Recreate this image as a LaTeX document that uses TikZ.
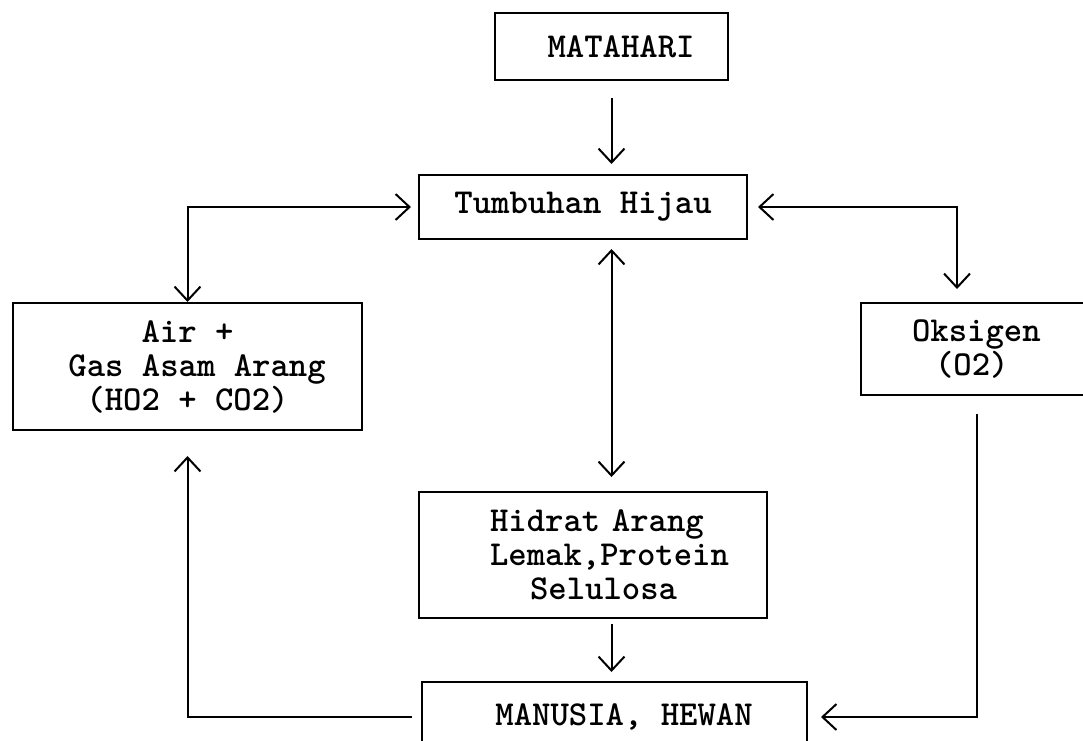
\documentclass[tikz,border=0pt]{standalone}
\usetikzlibrary{arrows.meta,calc}
\begin{document}
\begin{tikzpicture}[x=1pt,y=-1pt,
  every node/.style={font=\fontsize{35}{34}\selectfont\ttfamily\bfseries},
  box/.style={draw, line width=2pt, rectangle, inner sep=0pt, align=center},
  link/.style={line width=2pt, >={Straight Barb[length=14pt,width=26pt]}}]
\useasboundingbox (0,0) rectangle (1083,740);

% boxes
\node[box, minimum width=233pt, minimum height=67pt] (mat) at (611.5,46.5) {\hspace*{19pt}MATAHARI};
\node[box, minimum width=328pt, minimum height=64pt] (tum) at (583,207) {Tumbuhan Hijau};
\node[box, minimum width=349pt, minimum height=127pt] (air) at (187.5,366.5)
  {Air +\\\hspace*{19pt}Gas Asam Arang\\(HO2 + CO2)};
\node[box, text width=232pt, align=left, minimum height=92pt] (oks) at (977,349)
  {\hspace*{51pt}Oksigen\\\hspace*{74pt}(O2)};
\node[box, text width=348pt, align=left, minimum height=126pt] (hid) at (593,555)
  {\hspace*{71pt}Hidrat Arang\\\hspace*{71pt}Lemak,Protein\\\hspace*{111pt}Selulosa};
\node[box, minimum width=385pt, minimum height=70pt] (man) at (614.5,717) {\hspace*{19pt}MANUSIA, HEWAN};

% connectors
\draw[link,->,shorten <=17pt,shorten >=10pt] (mat.south) -- (mat.south |- tum.north);
\draw[link,<->,shorten >=7pt] (air.north) |- (tum.west);
\draw[link,<->,shorten <=10pt,shorten >=13pt] (tum.east) -| ([xshift=-20pt]oks.north);
\draw[link,<->,shorten <=9pt,shorten >=14pt] (tum.south -| mat.south) -- (hid.north -| mat.south);
\draw[link,->,shorten <=5pt,shorten >=9pt] (hid.south -| mat.south) -- (man.north -| mat.south);
\draw[link,->,shorten <=18pt,shorten >=13pt] (oks.south) |- (man.east);
\draw[link,->,shorten <=9pt,shorten >=25pt] (man.west) -| (air.south);
\end{tikzpicture}
\end{document}
